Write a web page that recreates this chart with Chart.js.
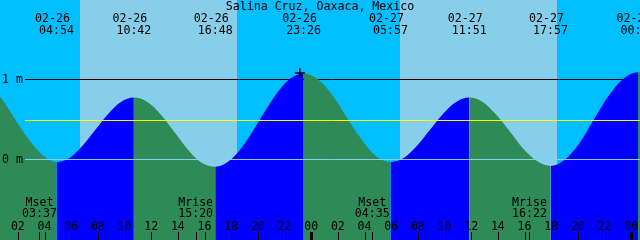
<!DOCTYPE html>
<html>
<head>
<meta charset="utf-8">
<script src="https://cdn.jsdelivr.net/npm/chart.js@4/dist/chart.umd.min.js"></script>
<style>
  html, body { margin: 0; padding: 0; background: #00bfff; }
  canvas { display: block; }
</style>
</head>
<body>
<canvas id="tideChart" width="640" height="240"></canvas>
<script>
// hours counted from 02-26 00:00
const stationName = "Salina Cruz, Oaxaca, Mexico";

const tideHours = [-1.22, -0.2, 0.82, 1.84, 2.86, 3.88, 4.9, 5.87, 6.83, 7.8, 8.77, 9.73,
  10.7, 11.72, 12.73, 13.75, 14.77, 15.78, 16.8, 17.91, 19.01, 20.12, 21.22, 22.33,
  23.43, 24.52, 25.61, 26.69, 27.78, 28.86, 29.95, 30.93, 31.92, 32.9, 33.88, 34.87,
  35.85, 36.87, 37.88, 38.9, 39.92, 40.93, 41.95, 43.04, 44.14, 45.23, 46.32, 47.42,
  48.51, 49.5];
const tideLevels = [1.0, 0.93, 0.75, 0.49, 0.24, 0.05, -0.03, 0.02, 0.17, 0.37, 0.57, 0.72,
  0.775, 0.72, 0.56, 0.34, 0.12, -0.04, -0.09, -0.01, 0.2, 0.49, 0.78, 1.0,
  1.075, 1.0, 0.8, 0.52, 0.25, 0.04, -0.03, 0.02, 0.17, 0.37, 0.57, 0.72,
  0.775, 0.72, 0.56, 0.35, 0.13, -0.02, -0.08, 0.0, 0.21, 0.51, 0.8, 1.01,
  1.09, 1.03];

const eventHours = [4.9, 10.7, 16.8, 23.43, 29.95, 35.85, 41.95, 48.51];
const eventDates = ["02-26", "02-26", "02-26", "02-26", "02-27", "02-27", "02-27", "02-28"];
const eventTimes = ["04:54", "10:42", "16:48", "23:26", "05:57", "11:51", "17:57", "00:31"];

const sunriseHours = [6.66, 30.66];
const sunsetHours = [18.435, 42.435];

const moonHours = [3.617, 15.333, 28.583, 40.367];
const moonNames = ["Mset", "Mrise", "Mset", "Mrise"];
const moonTimes = ["03:37", "15:20", "04:35", "16:22"];

const hourTicks = [2, 4, 6, 8, 10, 12, 14, 16, 18, 20, 22, 24,
  26, 28, 30, 32, 34, 36, 38, 40, 42, 44, 46, 48];
const hourLabels = ["02", "04", "06", "08", "10", "12", "14", "16", "18", "20", "22", "00",
  "02", "04", "06", "08", "10", "12", "14", "16", "18", "20", "22", "00"];

const gridLevels = [1, 0];
const gridLabels = ["1 m", "0 m"];
const meanLevel = 0.49;

const markHours = [23.15];
const markLevels = [1.08];

const FONT = '11.6px "DejaVu Sans Mono"';

const tideDecor = {
  id: "tideDecor",
  beforeDatasetsDraw(chart) {
    const { ctx, chartArea: a, scales: { x, y } } = chart;
    ctx.save();
    ctx.fillStyle = "#00bfff";
    ctx.fillRect(a.left, a.top, a.right - a.left, a.bottom - a.top);
    ctx.fillStyle = "#87ceeb";
    sunriseHours.forEach((h, i) => {
      const x0 = Math.round(x.getPixelForValue(h));
      const x1 = Math.round(x.getPixelForValue(sunsetHours[i]));
      ctx.fillRect(x0, a.top, x1 - x0, a.bottom - a.top);
    });
    // 1 m line sits behind the water
    const py = Math.floor(y.getPixelForValue(gridLevels[0])) + 0.5;
    ctx.strokeStyle = "#000";
    ctx.lineWidth = 1;
    ctx.beginPath();
    ctx.moveTo(25, py);
    ctx.lineTo(a.right, py);
    ctx.stroke();
    ctx.restore();
  },
  afterDatasetsDraw(chart) {
    const { ctx, chartArea: a, scales: { x, y } } = chart;
    ctx.save();
    ctx.lineWidth = 1;

    const my = Math.floor(y.getPixelForValue(meanLevel)) + 0.5;
    ctx.strokeStyle = "#ffff00";
    ctx.beginPath();
    ctx.moveTo(25, my);
    ctx.lineTo(a.right, my);
    ctx.stroke();

    const zy = Math.floor(y.getPixelForValue(gridLevels[1])) + 0.5;
    ctx.strokeStyle = "#87ceeb";
    ctx.beginPath();
    ctx.moveTo(25, zy);
    ctx.lineTo(a.right, zy);
    ctx.stroke();

    ctx.fillStyle = "#000";
    ctx.font = FONT;
    ctx.textBaseline = "alphabetic";

    ctx.textAlign = "left";
    gridLevels.forEach((v, i) => {
      ctx.fillText(gridLabels[i], 2, Math.floor(y.getPixelForValue(v)) + 4);
    });

    ctx.textAlign = "center";
    ctx.fillText(stationName, 320, 10);

    eventHours.forEach((h, i) => {
      const px = x.getPixelForValue(h);
      ctx.fillText(eventDates[i], px - 4, 22);
      ctx.fillText(eventTimes[i], px, 34);
    });

    moonHours.forEach((h, i) => {
      const px = x.getPixelForValue(h);
      ctx.fillText(moonNames[i], px, 206);
      ctx.fillText(moonTimes[i], px, 217);
    });

    hourTicks.forEach((h, i) => {
      const px = x.getPixelForValue(h);
      ctx.fillText(hourLabels[i], px, 230);
      if (h % 24 === 0) {
        ctx.fillRect(Math.round(px) - 1, 232, 3, 8);
      } else {
        ctx.fillRect(Math.round(px), 232, 1, 8);
      }
    });

    moonHours.forEach((h) => {
      ctx.fillRect(Math.round(x.getPixelForValue(h)), 232, 1, 8);
    });

    ctx.restore();
  },
};

new Chart(document.getElementById("tideChart"), {
  type: "line",
  data: {
    datasets: [
      {
        type: "scatter",
        data: markHours.map((h, i) => ({ x: h, y: markLevels[i] })),
        pointStyle: "cross",
        pointRadius: 5,
        borderColor: "#000",
        borderWidth: 1.5,
        order: 0,
      },
      {
        data: tideHours.map((h, i) => ({ x: h, y: tideLevels[i] })),
        fill: "start",
        borderWidth: 0,
        pointRadius: 0,
        cubicInterpolationMode: "monotone",
        backgroundColor: "#2e8b57",
        segment: {
          backgroundColor: (c) => (c.p1.parsed.y > c.p0.parsed.y ? "#0000ff" : "#2e8b57"),
        },
        order: 1,
      },
    ],
  },
  options: {
    responsive: false,
    animation: false,
    devicePixelRatio: 1,
    layout: { padding: 0, autoPadding: false },
    plugins: {
      legend: { display: false },
      tooltip: { enabled: false },
    },
    scales: {
      x: { type: "linear", min: 0.66, max: 48.66, display: false },
      y: { min: -1.00625, max: 1.99375, display: false },
    },
  },
  plugins: [tideDecor],
});
</script>
</body>
</html>
